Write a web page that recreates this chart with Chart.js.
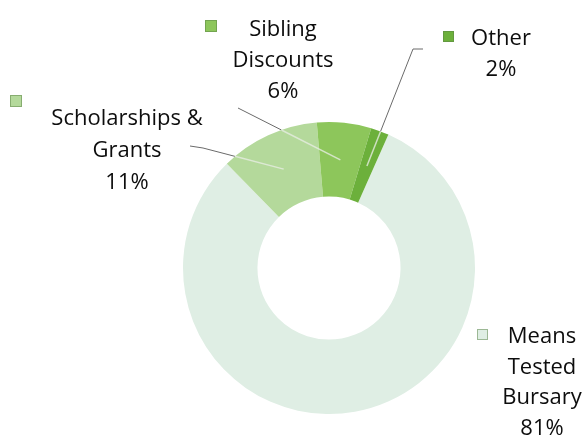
<!DOCTYPE html>
<html>
<head>
<meta charset="utf-8">
<script src="https://cdn.jsdelivr.net/npm/chart.js@4/dist/chart.umd.min.js"></script>
<style>
  html, body { margin: 0; padding: 0; background: #ffffff; }
  #wrap { width: 583px; height: 437px; position: relative; }
</style>
</head>
<body>
<div id="wrap"><canvas id="c" width="583" height="437"></canvas></div>
<script>
// ---- data ----
const categories = [['Means', 'Tested', 'Bursary'], ['Scholarships &', 'Grants'], ['Sibling', 'Discounts'], ['Other']];
const values = [81, 11, 6, 2];
const colors = ['#dfeee4', '#b4d99b', '#8dc65b', '#6cb03b'];

// ---- label layout (positions only) ----
const labelLayout = [
  { cx: 542, base: 343, step: 30.7, marker: [477, 329, 11], leader: null },
  { cx: 127, base: 125, step: 32, marker: [10, 95, 12], leader: [[190, 146], [203, 148]] },
  { cx: 283, base: 36, step: 31, marker: [205, 20, 12], leader: [[238, 108]] },
  { cx: 501, base: 45, step: 31, marker: [443, 31, 11], leader: [[423, 49], [413, 49]] }
];

const labelPlugin = {
  id: 'outLabels',
  afterDatasetsDraw(chart) {
    const ctx = chart.ctx;
    const meta = chart.getDatasetMeta(0);
    const ds = chart.data.datasets[0];
    const total = ds.data.reduce((a, b) => a + b, 0);
    ctx.save();
    meta.data.forEach((arc, i) => {
      const L = labelLayout[i];
      const props = arc.getProps(['x', 'y', 'startAngle', 'endAngle', 'innerRadius', 'outerRadius'], true);
      const mid = (props.startAngle + props.endAngle) / 2;
      const rMid = (props.innerRadius + props.outerRadius) / 2;
      const ax = props.x + Math.cos(mid) * rMid;
      const ay = props.y + Math.sin(mid) * rMid;
      if (L.leader) {
        const pts = L.leader;
        const last = pts[pts.length - 1];
        let lo = 0, hi = 1;
        for (let k = 0; k < 40; k++) {
          const m = (lo + hi) / 2;
          const px = last[0] + (ax - last[0]) * m, py = last[1] + (ay - last[1]) * m;
          const d = Math.hypot(px - props.x, py - props.y);
          if (d > props.outerRadius) lo = m; else hi = m;
        }
        const ex = last[0] + (ax - last[0]) * lo, ey = last[1] + (ay - last[1]) * lo;
        ctx.lineWidth = 1;
        ctx.strokeStyle = '#6a6a6a';
        ctx.beginPath();
        ctx.moveTo(pts[0][0], pts[0][1]);
        for (let k = 1; k < pts.length; k++) ctx.lineTo(pts[k][0], pts[k][1]);
        ctx.lineTo(ex, ey);
        ctx.stroke();
        ctx.strokeStyle = 'rgba(230,236,225,0.8)';
        ctx.lineWidth = 1.5;
        ctx.beginPath();
        ctx.moveTo(ex, ey);
        ctx.lineTo(ax, ay);
        ctx.stroke();
      }
      const [mx, my, ms] = L.marker;
      ctx.fillStyle = ds.backgroundColor[i];
      ctx.fillRect(mx, my, ms, ms);
      ctx.strokeStyle = 'rgba(90,130,70,0.5)';
      ctx.lineWidth = 1;
      ctx.strokeRect(mx + 0.5, my + 0.5, ms - 1, ms - 1);
      const lines = chart.data.labels[i].concat([Math.round(ds.data[i] / total * 100) + '%']);
      ctx.fillStyle = '#0d0d0d';
      ctx.font = '22px "Open Sans", sans-serif';
      ctx.textAlign = 'center';
      ctx.textBaseline = 'alphabetic';
      lines.forEach((t, k) => ctx.fillText(t, L.cx, Math.round(L.base + k * L.step)));
    });
    ctx.restore();
  }
};

new Chart(document.getElementById('c'), {
  type: 'doughnut',
  data: {
    labels: categories,
    datasets: [{
      data: values,
      backgroundColor: colors,
      borderWidth: 0
    }]
  },
  options: {
    responsive: false,
    animation: false,
    rotation: 24,
    cutout: '49%',
    layout: { padding: { left: 183, right: 108, top: 122, bottom: 23 } },
    plugins: { legend: { display: false }, tooltip: { enabled: false } }
  },
  plugins: [labelPlugin]
});
</script>
</body>
</html>
